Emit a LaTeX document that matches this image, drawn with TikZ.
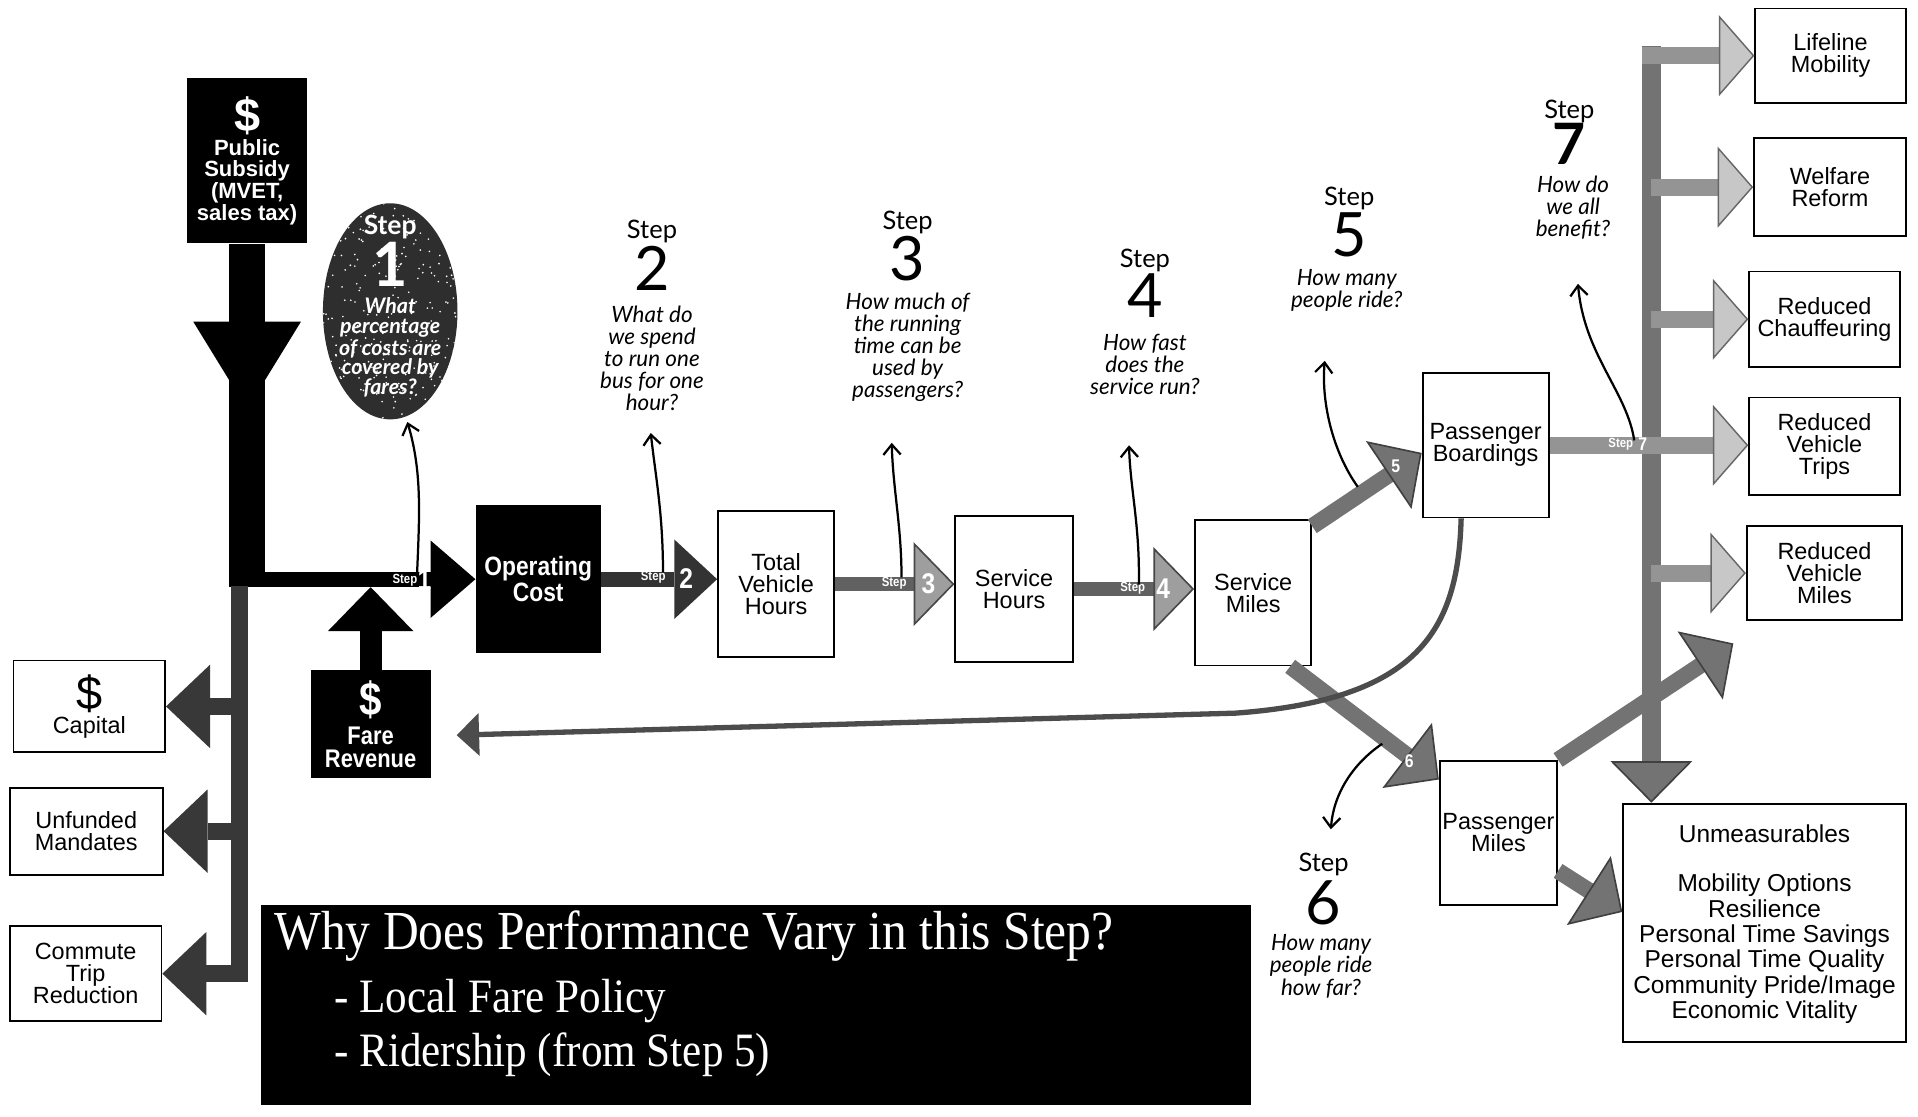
\documentclass[tikz,border=0pt]{standalone}
\usepackage{fontspec}
\setmainfont{Liberation Sans}
\newfontfamily\qfont{Lato}
\newfontfamily\narrowsans[FakeStretch=0.86]{Liberation Sans}
\newfontfamily\titlefont[FakeStretch=0.9]{Liberation Serif}
\usetikzlibrary{arrows.meta,shapes.geometric,calc}
\newcommand\setfs[2]{\fontsize{#1}{#2}\selectfont}

\begin{document}
\begin{tikzpicture}[x=0.6pt, y=-0.6pt,
  box/.style={draw, line width=0.9pt, fill=white, inner sep=0pt, align=center,
              font=\setfs{11.5}{10.8}},
  blk/.style={fill=black, text=white, inner sep=0pt, align=center},
  qstep/.style={font=\qfont\setfs{12.5}{12.5}, inner sep=0pt},
  qnum/.style={font=\qfont\setfs{30}{30}, inner sep=0pt},
  qtext/.style={font=\qfont\itshape\setfs{11}{10.8}, align=center, inner sep=0pt},
  barword/.style={font=\narrowsans\bfseries\setfs{6.5}{6.5}, text=white, inner sep=0pt},
  barnum/.style={font=\narrowsans\bfseries\setfs{14}{14}, text=white, inner sep=0pt},
  qarrow/.style={line width=1.1pt, -{Straight Barb[length=5pt,width=8.5pt]}},
  lowbar/.style={line width=8.4pt, black!78, line join=miter,
                 -{Triangle[length=21.6pt,width=41pt,line width=0pt]}},
  main2/.style={line width=7.2pt, black!80,
                -{Triangle[length=21pt,width=39pt,line width=0pt]}},
  main34/.style={line width=7.2pt, black!62,
                 -{Triangle[length=20pt,width=41pt,line width=0.8pt,fill=black!38,color=black!72]}},
  diag/.style={line width=8pt, black!55,
               -{Triangle[length=19.5pt,width=40pt,line width=0.8pt,fill=black!55,color=black!75]}},
  rband/.style={line width=8.4pt, black!42,
                -{Triangle[length=17.4pt,width=39.6pt,line width=0.7pt,fill=black!22,color=black!60]}},
  vband/.style={line width=9pt, black!55,
                -{Triangle[length=20.4pt,width=40pt,line width=0.8pt,fill=black!55,color=black!75]}},
  retline/.style={line width=2.6pt, black!70,
                  -{Triangle[length=11pt,width=21pt,line width=0pt]}}
]
\fill[white] (0,0) rectangle (1568,913);
\useasboundingbox (0,0) rectangle (1568,913);

% ---------------- boxes ----------------
\node[blk, minimum width=58.8pt, minimum height=81pt, font=\bfseries\setfs{10.8}{10.6}]
  (subsidy) at (202,131.5) {{\setfs{23}{22}\$}\\[1pt]Public\\Subsidy\\(MVET,\\sales tax)};
\node[blk, minimum width=61.2pt, minimum height=72.6pt, font=\narrowsans\bfseries\setfs{13}{10.8}]
  (opcost) at (440,473.5) {Operating\\Cost};
\node[blk, minimum width=58.8pt, minimum height=52.8pt, font=\narrowsans\bfseries\setfs{12.5}{11.2}]
  (fare) at (303,592) {{\setfs{23}{20}\$}\\[3pt]Fare\\Revenue};

\node[box, minimum width=74.4pt, minimum height=45pt] (capital) at (73,577.5)
  {{\setfs{23}{20}\$}\\[1pt]Capital};
\node[box, minimum width=75pt, minimum height=42.6pt] (unfunded) at (70.5,679.5)
  {Unfunded\\Mandates};
\node[box, minimum width=74.4pt, minimum height=46.8pt] (commute) at (70,796)
  {Commute\\Trip\\Reduction};

\node[box, minimum width=57pt, minimum height=71.4pt] (tvh) at (634.5,477.5) {Total\\Vehicle\\Hours};
\node[box, minimum width=57.6pt, minimum height=71.4pt] (sh) at (829,481.5) {Service\\Hours};
\node[box, minimum width=57pt, minimum height=71.4pt] (smi) at (1024.5,484.5) {Service\\Miles};
\node[box, minimum width=61.8pt, minimum height=70.8pt] (pb) at (1214.5,364) {Passenger\\Boardings};
\node[box, minimum width=57.6pt, minimum height=70.8pt] (pm) at (1225,681) {Passenger\\Miles};

\node[box, minimum width=73.8pt, minimum height=46.2pt] (life) at (1496.5,45.5) {Lifeline\\Mobility};
\node[box, minimum width=74.4pt, minimum height=48pt] (welf) at (1496,153) {Welfare\\Reform};
\node[box, minimum width=73.8pt, minimum height=46.8pt] (chauf) at (1491.5,261) {Reduced\\Chauffeuring};
\node[box, minimum width=73.8pt, minimum height=48pt] (rvt) at (1491.5,365) {Reduced\\Vehicle\\Trips};
\node[box, minimum width=76.2pt, minimum height=46.2pt] (rvm) at (1491.5,468.5) {Reduced\\Vehicle\\Miles};

\node[box, minimum width=138.6pt, minimum height=117pt] (unm) at (1442.5,754.5) {};
\node[font=\setfs{12}{12.5}, align=center, inner sep=0pt, anchor=north] (unmtext) at (1442.5,674)
  {Unmeasurables\\[11.5pt]Mobility Options\\Resilience\\Personal Time Savings\\Personal Time Quality\\Community Pride/Image\\Economic Vitality};

% ---------------- step 1 oval ----------------
\node[ellipse, fill=black!82, minimum width=66pt, minimum height=106pt, inner sep=0pt]
  (s1oval) at (319,254.5) {};
\begin{scope}
  \clip (s1oval.center) ellipse (33pt and 53pt);
  \pgfmathsetseed{11}
  \foreach \k in {1,...,260}
    \fill[white] ($(s1oval.center)+({55*rand},{88*rand})$) circle (0.45pt);
\end{scope}
\node[font=\qfont\bfseries\setfs{13}{13}, text=white, inner sep=0pt] (s1w) at (319,186) {Step};
\node[font=\qfont\bfseries\setfs{30}{30}, text=white, inner sep=0pt] (s1n) at (319,216) {1};
\node[font=\qfont\bfseries\itshape\setfs{10.5}{9.6}, text=white, align=center, inner sep=0pt]
  (s1q) at (319,284) {What\\percentage\\of costs are\\covered by\\fares?};

% ---------------- funding flow ----------------
\coordinate (join) at (202,480);
\draw[line width=17.4pt] (subsidy.south) -- (subsidy.south |- join);
\fill (158,263) -- (246,263) -- (216.5,311) -- (187.5,311) -- cycle;

\coordinate (s1start) at (187.5,473.5);
\draw[line width=7.2pt, -{Triangle[length=22pt,width=38pt,line width=0pt]}] (s1start) -- (opcost.west);
\draw[line width=10.8pt, -{Triangle[length=21.6pt,width=42pt,line width=0pt]}] (fare.north) -- (fare.north |- join);

\coordinate (lowtop) at (196,479);
\draw[lowbar] (lowtop) -- (lowtop |- commute) -- (commute.east);
\draw[lowbar] (lowtop |- capital) -- (capital.east);
\draw[lowbar] (lowtop |- unfunded) -- (unfunded.east);

% ---------------- main chain ----------------
\draw[main2] (opcost.east) -- (opcost.east -| tvh.west);
\draw[main34] (tvh.east) -- (tvh.east -| sh.west);
\draw[main34] (sh.east) -- (sh.east -| smi.west);
\draw[diag] ($(smi.north east)+(0,6)$) -- ($(pb.north west)+(0,66)$);
\draw[diag] ($(smi.south east)+(-18,0)$) -- ($(pm.north west)+(0,16)$);

% fare revenue return line
\coordinate (faretip) at ($(fare.east)+(21,9)$);
\draw[retline] ($(pb.south)+(-20,0)$) .. controls (1192,515) and (1160,572) .. (1010,583) -- (faretip);

% ---------------- benefits ----------------
\coordinate (vtop) at (1350,38);
\draw[vband] (vtop) -- (vtop |- unm.north);
\draw[rband] ($(vtop)+(-7.5,7.5)$) -- (life.west);
\draw[rband] (vtop |- welf) -- (welf.west);
\draw[rband] (vtop |- chauf) -- (chauf.west);
\draw[rband] (vtop |- rvm) -- (rvm.west);
\draw[rband] (pb.east) -- (pb.east -| rvt.west);
\coordinate (pmtip) at (1417,526);
\draw[diag] (pm.north east) -- (pmtip);
\draw[diag] ($(pm.east)+(0,31)$) -- ($(unm.west)+(0,-9)$);

% ---------------- labels on the bands ----------------
\node[barword] (b1w) at (331,474) {Step};
\node[barnum] (b1n) at (347,474) {1};
\node[barword] (b2w) at (534,472) {Step};
\node[barnum] (b2n) at (561,473) {2};
\node[barword] (b3w) at (731,477) {Step};
\node[barnum] (b3n) at (759,477) {3};
\node[barword] (b4w) at (926,481) {Step};
\node[barnum] (b4n) at (951,481) {4};
\node[barnum, font=\narrowsans\bfseries\setfs{9}{9}] (b5n) at (1141,381) {5};
\node[barnum, font=\narrowsans\bfseries\setfs{9}{9}] (b6n) at (1152,622) {6};
\node[barword] (b7w) at (1325,363) {Step};
\node[barnum, font=\narrowsans\bfseries\setfs{9}{9}] (b7n) at (1343,363) {7};

% ---------------- step questions ----------------
\node[qstep] (s2w) at (533,189) {Step};
\node[qnum] (s2n) at (533,219) {2};
\node[qtext] (s2q) at (533,293) {What do\\we spend\\to run one\\bus for one\\hour?};

\node[qstep] (s3w) at (742,182) {Step};
\node[qnum] (s3n) at (742,211) {3};
\node[qtext] (s3q) at (742,284) {How much of\\the running\\time can be\\used by\\passengers?};

\node[qstep] (s4w) at (936,213) {Step};
\node[qnum] (s4n) at (936,242) {4};
\node[qtext] (s4q) at (936,298) {How fast\\does the\\service run?};

\node[qstep] (s5w) at (1103,162) {Step};
\node[qnum] (s5n) at (1103,192) {5};
\node[qtext] (s5q) at (1101,237.5) {How many\\people ride?};

\node[qstep] (s6w) at (1082,707) {Step};
\node[qnum] (s6n) at (1082,738) {6};
\node[qtext] (s6q) at (1080,790) {How many\\people ride\\how far?};

\node[qstep] (s7w) at (1283,91) {Step};
\node[qnum, font=\qfont\bfseries\setfs{28}{28}] (s7n) at (1283,118) {7};
\node[qtext] (s7q) at (1286,170) {How do\\we all\\benefit?};

% question pointers
\coordinate (q1a) at (341,468); \coordinate (q1b) at (333,345);
\draw[qarrow] (q1a) .. controls (343,420) and (345,385) .. (q1b);
\coordinate (q2a) at (542,468); \coordinate (q2b) at (532,354);
\draw[qarrow] (q2a) .. controls (542,420) and (536,390) .. (q2b);
\coordinate (q3a) at (737,472); \coordinate (q3b) at (729,362);
\draw[qarrow] (q3a) .. controls (737,430) and (730,400) .. (q3b);
\coordinate (q4a) at (931,478); \coordinate (q4b) at (923,364);
\draw[qarrow] (q4a) .. controls (932,430) and (924,400) .. (q4b);
\coordinate (q5a) at (1110,398); \coordinate (q5b) at (1083,295);
\draw[qarrow] (q5a) .. controls (1090,370) and (1080,330) .. (q5b);
\coordinate (q6a) at (1130,608); \coordinate (q6b) at (1088,678);
\draw[qarrow] (q6a) .. controls (1105,625) and (1090,650) .. (q6b);
\coordinate (q7a) at (1336,360); \coordinate (q7b) at (1290,232);
\draw[qarrow] (q7a) .. controls (1330,320) and (1295,290) .. (q7b);

% ---------------- explanation panel ----------------
\node[fill=black, minimum width=486pt, minimum height=97.8pt, inner sep=0pt] (why) at (618,821.5) {};
\node[text=white, font=\titlefont\setfs{27}{27}, anchor=west, inner sep=0pt] (whyt) at (224,765)
  {Why Does Performance Vary in this Step?};
\node[text=white, font=\titlefont\setfs{23.5}{23.5}, anchor=west, inner sep=0pt] (why1) at (273,818)
  {- Local Fare Policy};
\node[text=white, font=\titlefont\setfs{23.5}{23.5}, anchor=west, inner sep=0pt] (why2) at (273,862)
  {- Ridership (from Step 5)};
\end{tikzpicture}
\end{document}
